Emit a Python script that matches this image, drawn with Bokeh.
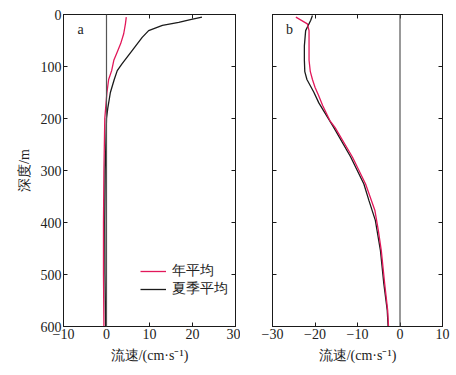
from bokeh.plotting import figure
from bokeh.layouts import row
from bokeh.models import (Range1d, FixedTicker, LinearAxis, Span, Legend,
                          LegendItem, Label)
from bokeh.embed import file_html
from bokeh.resources import INLINE

# ---- data ----
a_annual_depth = [5, 18, 37, 56, 72, 88, 108, 125, 150, 200, 300, 400, 500, 600]
a_annual_speed = [4.6, 4.4, 4.0, 3.3, 2.5, 1.7, 1.2, 0.5, 0.1, -0.4, -0.6, -0.7, -0.7, -0.6]
a_summer_depth = [5, 10, 15, 21, 31, 44, 69, 95, 108, 125, 150, 180, 200, 300, 400, 500, 600]
a_summer_speed = [22.2, 19.5, 16.8, 13.0, 9.8, 8.3, 6.0, 3.6, 2.5, 1.8, 0.9, 0.3, 0.0, -0.3, -0.4, -0.35, -0.2]

b_annual_depth = [5, 18, 31, 88, 110, 125, 140, 155, 175, 204, 217, 274, 326, 377, 415, 454, 518, 569, 600]
b_annual_speed = [-24.5, -21.8, -21.4, -21.4, -21.1, -20.6, -20.0, -19.2, -18.2, -16.5, -15.3, -11.2, -8.1, -5.9, -5.1, -4.4, -3.6, -2.9, -2.7]
b_summer_depth = [2, 11, 31, 60, 88, 110, 125, 137, 149, 170, 197, 217, 274, 326, 358, 396, 454, 518, 569, 600]
b_summer_speed = [-20.6, -21.0, -22.2, -22.5, -22.5, -22.4, -21.9, -21.1, -20.3, -19.1, -17.1, -15.6, -11.6, -8.5, -7.3, -5.8, -4.6, -3.8, -3.0, -2.8]

a_xticks = [-10, 0, 10, 20, 30]
b_xticks = [-30, -20, -10, 0, 10]
y_ticks = [0, 100, 200, 300, 400, 500, 600]
series_names = ["年平均", "夏季平均"]
panel_names = ["a", "b"]
x_title = "流速/(cm·s⁻¹)"
y_title = "深度/m"

RED = "#e2185a"
BLACK = "#1a1a1a"
FONT = "Times New Roman, Liberation Serif, serif"


def minus(v):
    return str(v).replace("-", "−")


def style_axis(ax, ticks, show_labels=True):
    ax.ticker = FixedTicker(ticks=ticks)
    ax.major_tick_in = 4
    ax.major_tick_out = 0
    ax.minor_tick_in = 0
    ax.minor_tick_out = 0
    ax.axis_line_color = BLACK
    ax.major_tick_line_color = BLACK
    ax.major_label_text_font = FONT
    ax.major_label_text_color = "#222222"
    ax.major_label_text_font_size = "14px"
    ax.major_label_standoff = 2
    if show_labels:
        ax.major_label_overrides = {t: minus(t) for t in ticks}
    else:
        ax.major_label_overrides = {t: "" for t in ticks}
        ax.major_label_standoff = 0


def make_panel(xr, xticks, show_y, width, border_left, border_right, name, name_x):
    p = figure(width=width, height=371, x_range=Range1d(*xr), y_range=Range1d(600, 0),
               output_backend="svg", toolbar_location=None,
               min_border_left=border_left, min_border_right=border_right,
               min_border_top=14, min_border_bottom=45)
    p.xgrid.visible = False
    p.ygrid.visible = False
    p.outline_line_color = BLACK
    p.background_fill_color = "white"
    p.border_fill_color = "white"
    style_axis(p.xaxis[0], xticks, True)
    style_axis(p.yaxis[0], y_ticks, show_y)
    p.xaxis[0].axis_label = x_title
    p.xaxis[0].axis_label_text_font = FONT
    p.xaxis[0].axis_label_text_font_size = "14px"
    p.xaxis[0].axis_label_text_font_style = "normal"
    p.xaxis[0].axis_label_text_color = "#222222"
    p.xaxis[0].axis_label_standoff = 6
    if show_y:
        p.yaxis[0].axis_label = y_title
        p.yaxis[0].axis_label_text_font = FONT
        p.yaxis[0].axis_label_text_font_size = "14px"
        p.yaxis[0].axis_label_text_font_style = "normal"
        p.yaxis[0].axis_label_text_color = "#222222"
        p.yaxis[0].axis_label_standoff = 6
    top = LinearAxis()
    style_axis(top, xticks, False)
    p.add_layout(top, "above")
    right = LinearAxis()
    style_axis(right, y_ticks, False)
    p.add_layout(right, "right")
    p.add_layout(Span(location=0, dimension="height", line_color="#555555", line_width=1.2))
    p.add_layout(Label(x=name_x, y=29, text=name, text_font=FONT, text_font_size="14px",
                       text_align="center", text_baseline="middle", text_color="#222222"))
    return p


pa = make_panel((-10, 30), a_xticks, True, 240, 63, 5, panel_names[0], -6)
ra = pa.line(a_annual_speed, a_annual_depth, line_color=RED, line_width=1.3)
ka = pa.line(a_summer_speed, a_summer_depth, line_color=BLACK, line_width=1.3)
legend = Legend(items=[LegendItem(label=series_names[0], renderers=[ra]),
                       LegendItem(label=series_names[1], renderers=[ka])],
                location=(77, 28), border_line_color=None, background_fill_alpha=0,
                label_text_font=FONT, label_text_font_size="14px", label_text_color="#222222",
                glyph_width=26, glyph_height=14, label_height=14, spacing=-4, padding=0,
                margin=0, label_standoff=6)
pa.add_layout(legend)

pb = make_panel((-30, 10), b_xticks, False, 212, 32, 10, panel_names[1], -26)
pb.line(b_summer_speed, b_summer_depth, line_color=BLACK, line_width=1.3)
pb.line(b_annual_speed, b_annual_depth, line_color=RED, line_width=1.3)

layout = row(pa, pb)
open("out.html", "w").write(file_html(layout, INLINE))
